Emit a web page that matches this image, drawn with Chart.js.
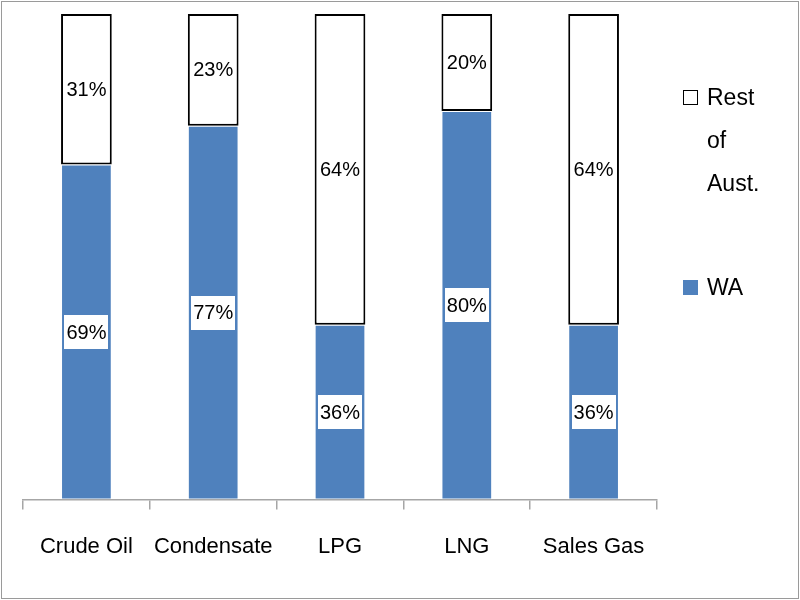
<!DOCTYPE html>
<html>
<head>
<meta charset="utf-8">
<script src="https://cdn.jsdelivr.net/npm/chart.js@4"></script>
<style>
    html, body { margin: 0; padding: 0; background: #fff; }
    #frame {
        position: absolute; left: 1px; top: 1px; width: 796px; height: 596px;
        border: 1px solid #9a9a9a;
    }
    #wrap { position: absolute; left: 0; top: 0; width: 800px; height: 600px; }
    .legend { position: absolute; font-family: "Liberation Sans", Arial, sans-serif; font-size: 23px; color: #000; }
    .legend .box { position: absolute; width: 13px; height: 13px; }
    .legend .txt { position: absolute; left: 24px; line-height: 43px; white-space: nowrap; }
</style>
</head>
<body>
<div id="frame"></div>
<div id="wrap"><canvas id="chart" width="800" height="600"></canvas></div>
<div class="legend" id="legRest" style="left:683px; top:76px;">
    <div class="box" style="top:14px; border:1.5px solid #000; background:#fff;"></div>
    <div class="txt" id="legRestTxt"></div>
</div>
<div class="legend" id="legWa" style="left:683px; top:266px;">
    <div class="box" style="top:14px; width:15px; height:15px; background:#4f81bd;"></div>
    <div class="txt" id="legWaTxt"></div>
</div>
<script>
const categories = ["Crude Oil", "Condensate", "LPG", "LNG", "Sales Gas"];
const waShare = [69, 77, 36, 80, 36];
const restShare = [31, 23, 64, 20, 64];
const seriesNames = ["WA", "Rest of Aust."];

const colors = {
    wa: "#4f81bd",
    rest: "#ffffff",
    edge: "#000000",
    axis: "#a6a6a6",
    text: "#000000"
};

document.getElementById("legWaTxt").textContent = seriesNames[0];
document.getElementById("legRestTxt").innerHTML = "Rest<br>of<br>Aust.";

// white label boxes in the middle of every segment
const segmentLabels = {
    id: "segmentLabels",
    afterDatasetsDraw(chart) {
        const ctx = chart.ctx;
        ctx.save();
        ctx.font = "20px 'Liberation Sans', Arial, sans-serif";
        ctx.textAlign = "center";
        ctx.textBaseline = "middle";
        chart.data.datasets.forEach((ds, i) => {
            const meta = chart.getDatasetMeta(i);
            meta.data.forEach((bar, j) => {
                const text = ds.data[j] + "%";
                const cy = (bar.y + bar.base) / 2;
                const w = ctx.measureText(text).width + 4;
                const h = 34;
                ctx.fillStyle = "#ffffff";
                ctx.fillRect(Math.round(bar.x - w / 2), Math.round(cy - h / 2), Math.round(w), h);
                ctx.fillStyle = colors.text;
                ctx.fillText(text, bar.x, cy + 1);
            });
        });
        ctx.restore();
    }
};

new Chart(document.getElementById("chart").getContext("2d"), {
    type: "bar",
    data: {
        labels: categories,
        datasets: [
            {
                label: seriesNames[0],
                data: waShare,
                backgroundColor: colors.wa,
                borderColor: "rgba(255,255,255,0.35)",
                borderWidth: 1,
                borderSkipped: false
            },
            {
                label: seriesNames[1],
                data: restShare,
                backgroundColor: colors.rest,
                borderColor: colors.edge,
                borderWidth: 2,
                borderSkipped: false
            }
        ]
    },
    options: {
        responsive: false,
        animation: false,
        devicePixelRatio: 1,
        layout: {
            padding: { left: 23, right: 143, top: 14, bottom: 16 }
        },
        datasets: {
            bar: { categoryPercentage: 1, barPercentage: 0.4 }
        },
        plugins: {
            legend: { display: false },
            tooltip: { enabled: false }
        },
        scales: {
            x: {
                stacked: true,
                border: { display: true, color: colors.axis, width: 1.5 },
                grid: {
                    offset: true,
                    drawOnChartArea: false,
                    drawTicks: true,
                    tickLength: 10,
                    color: colors.axis,
                    lineWidth: 1.5
                },
                ticks: {
                    color: colors.text,
                    padding: 24,
                    autoSkip: false,
                    maxRotation: 0,
                    font: { family: "'Liberation Sans', Arial, sans-serif", size: 22 }
                }
            },
            y: {
                stacked: true,
                display: false,
                min: 0,
                max: 100
            }
        }
    },
    plugins: [segmentLabels]
});
</script>
</body>
</html>
